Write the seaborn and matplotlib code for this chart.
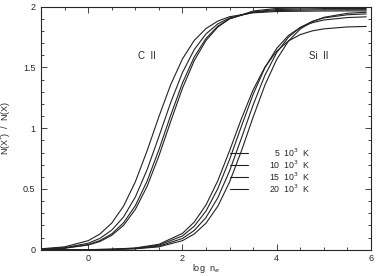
import pandas as pd
import matplotlib.pyplot as plt
import seaborn as sns
from matplotlib.ticker import MultipleLocator

# log n_e grids
x_c2 = [-1, -0.5, 0, 0.25, 0.5, 0.75, 1.0, 1.25, 1.5, 1.75, 2.0, 2.25, 2.5,
        2.75, 3.0, 3.5, 4.0, 5.0, 5.9]
x_si2 = [-1, 0, 0.5, 1.0, 1.5, 2.0, 2.25, 2.5, 2.75, 3.0, 3.25, 3.5, 3.75,
         4.0, 4.25, 4.5, 4.75, 5.0, 5.5, 5.9]

# C II, N(X*)/N(X) for T = 5, 10, 15, 20 10^3 K
c2_5 = [0.008, 0.024, 0.075, 0.130, 0.220, 0.359, 0.559, 0.815, 1.095, 1.358,
        1.570, 1.722, 1.820, 1.881, 1.917, 1.949, 1.960, 1.964, 1.965]
c2_10 = [0.006, 0.017, 0.054, 0.094, 0.162, 0.270, 0.434, 0.659, 0.931, 1.211,
         1.458, 1.647, 1.776, 1.858, 1.907, 1.953, 1.968, 1.974, 1.975]
c2_15 = [0.004, 0.014, 0.043, 0.076, 0.131, 0.222, 0.363, 0.565, 0.823, 1.106,
         1.372, 1.586, 1.739, 1.839, 1.900, 1.957, 1.976, 1.984, 1.985]
c2_20 = [0.004, 0.013, 0.039, 0.068, 0.119, 0.201, 0.332, 0.522, 0.772, 1.055,
         1.329, 1.556, 1.722, 1.832, 1.900, 1.964, 1.985, 1.994, 1.995]

# Si II
si2_5 = [0.000, 0.001, 0.005, 0.015, 0.045, 0.135, 0.228, 0.369, 0.568, 0.815,
         1.077, 1.316, 1.503, 1.634, 1.718, 1.770, 1.800, 1.817, 1.833, 1.837]
si2_10 = [0.000, 0.001, 0.004, 0.012, 0.038, 0.114, 0.194, 0.319, 0.503, 0.743,
          1.015, 1.279, 1.498, 1.657, 1.763, 1.828, 1.867, 1.890, 1.910, 1.916]
si2_15 = [0.000, 0.001, 0.003, 0.010, 0.030, 0.093, 0.159, 0.266, 0.428, 0.649,
          0.917, 1.192, 1.436, 1.622, 1.749, 1.829, 1.878, 1.907, 1.933, 1.940]
si2_20 = [0.000, 0.001, 0.002, 0.008, 0.024, 0.075, 0.130, 0.219, 0.358, 0.558,
          0.812, 1.092, 1.355, 1.566, 1.717, 1.816, 1.876, 1.912, 1.945, 1.954]

temps = ['5', '10', '15', '20']
legend_y = [0.8, 0.7, 0.6, 0.5]

rows = []
for t, ys in zip(temps, [c2_5, c2_10, c2_15, c2_20]):
    for x, y in zip(x_c2, ys):
        rows.append(('C II', t, x, y))
for t, ys in zip(temps, [si2_5, si2_10, si2_15, si2_20]):
    for x, y in zip(x_si2, ys):
        rows.append(('Si II', t, x, y))
df = pd.DataFrame(rows, columns=['ion', 'T', 'logne', 'ratio'])
df['curve'] = df['ion'] + df['T']

sns.set_style('ticks')
plt.rcParams['font.family'] = ['Liberation Sans', 'DejaVu Sans']

fig = plt.figure(figsize=(3.77, 2.76), dpi=100)
ax = fig.add_axes([0.109, 0.095, 0.875, 0.881])

sns.lineplot(data=df, x='logne', y='ratio', units='curve', estimator=None,
             color='#222222', linewidth=0.8, ax=ax, legend=False)

# temperature key
for t, ly in zip(temps, legend_y):
    ax.plot([3.0, 3.4], [ly, ly], color='#222222', linewidth=0.8)
    ax.text(4.72, ly, t + '  10$^3$  K', fontsize=6.3, ha='right', va='center')

ax.text(1.24, 1.59, 'C  II', fontsize=7, ha='center', va='center')
ax.text(4.88, 1.59, 'Si  II', fontsize=7, ha='center', va='center')

ax.set_xlim(-1, 6)
ax.set_ylim(0, 2)
ax.xaxis.set_major_locator(MultipleLocator(2))
ax.xaxis.set_minor_locator(MultipleLocator(0.5))
ax.yaxis.set_minor_locator(MultipleLocator(0.1))
ax.set_yticks([0, 0.5, 1, 1.5, 2])
ax.set_yticklabels(['0', '0.5', '1', '1.5', '2'])
ax.tick_params(which='both', direction='in', top=True, right=True,
               labelsize=6.5, width=0.6, pad=4)
ax.tick_params(axis='x', pad=3)
ax.tick_params(which='major', length=4.5)
ax.tick_params(which='minor', length=2.2)
for s in ax.spines.values():
    s.set_linewidth(0.8)

ax.set_xlabel('log  n$_e$', fontsize=6.5, labelpad=-0.5)
ax.set_ylabel('N(X$^{*}$)  /  N(X)', fontsize=6.5, labelpad=7)

fig.savefig('out.png', dpi=100)
